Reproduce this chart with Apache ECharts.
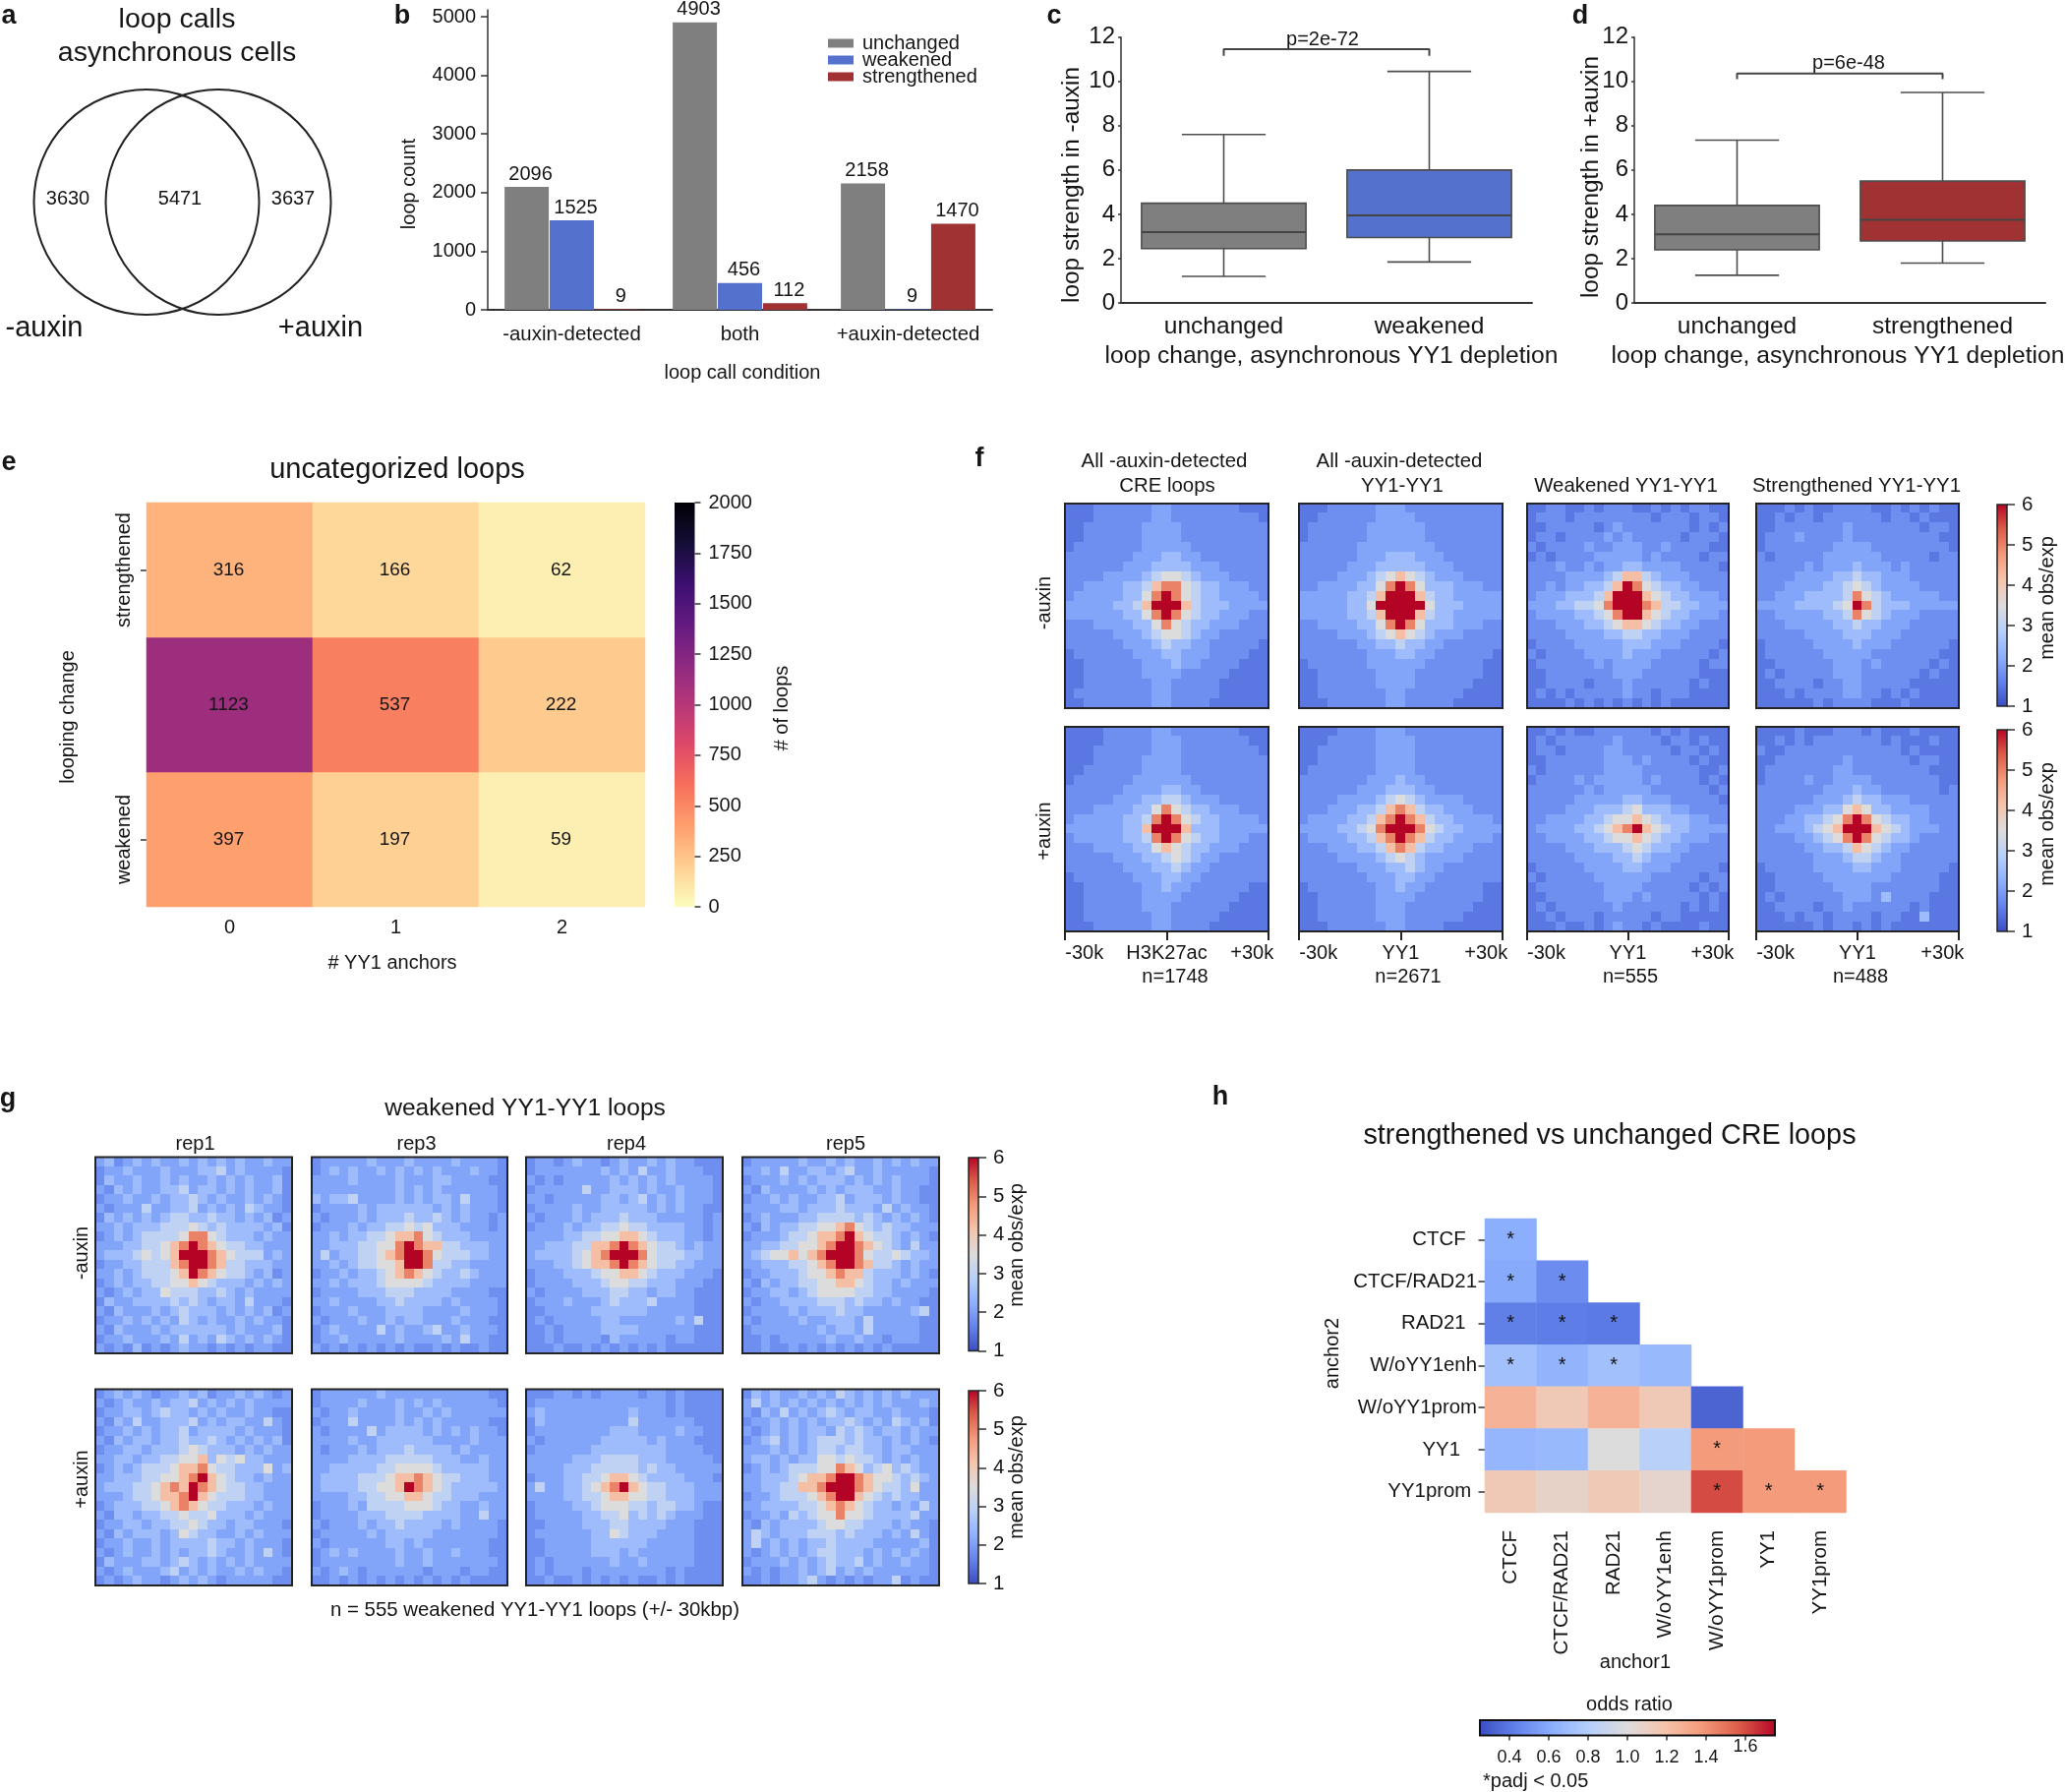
<!DOCTYPE html>
<html><head><meta charset="utf-8">
<style>html,body{margin:0;padding:0;background:#fff}#c{width:2100px;height:1822px}</style>
<script src="https://cdn.jsdelivr.net/npm/echarts@6/dist/echarts.min.js"></script>
</head><body><div id="c"></div>
<script>
// ---------- data ----------
const vennCounts = [3630, 5471, 3637];
const vennLabels = ['-auxin', '+auxin'];
const loopConditions = ['-auxin-detected', 'both', '+auxin-detected'];
const barUnchanged = [2096, 4903, 2158];
const barWeakened = [1525, 456, 9];
const barStrengthened = [9, 112, 1470];
const boxC = [[0, 1.2, 2.45, 3.2, 4.5, 7.6], [1, 1.85, 2.95, 3.95, 6.0, 10.45]];
const boxD = [[0, 1.25, 2.4, 3.1, 4.4, 7.35], [1, 1.8, 2.8, 3.75, 5.5, 9.5]];
const bracketC = [[0, 11.15], [0, 11.45], [1, 11.45], [1, 11.15]];
const bracketD = [[0, 10.1], [0, 10.35], [1, 10.35], [1, 10.1]];
const eAnchors = ['0', '1', '2'];
const eChanges = ['weakened', 'unchanged', 'strengthened'];
const eValues = [[397, 197, 59], [1123, 537, 222], [316, 166, 62]];
const hNames = ['CTCF', 'CTCF/RAD21', 'RAD21', 'W/oYY1enh', 'W/oYY1prom', 'YY1', 'YY1prom'];
const hOdds = [
  [0.62],
  [0.60, 0.48],
  [0.43, 0.42, 0.41],
  [0.72, 0.65, 0.72, 0.68],
  [1.27, 1.15, 1.27, 1.15, 0.33],
  [0.66, 0.68, 1.00, 0.82, 1.37, 1.37],
  [1.15, 1.08, 1.15, 1.06, 1.60, 1.37, 1.37]];
const hSig = [
  [1],
  [1, 1],
  [1, 1, 1],
  [1, 1, 1, 0],
  [0, 0, 0, 0, 0],
  [0, 0, 0, 0, 1, 0],
  [0, 0, 0, 0, 1, 1, 1]];
const hLabelPad = [2, 0, 2, 0, 0, 3, 1];
// pile-ups: hand-read coarse cells; each digit indexes pileupLevels (mean obs/exp)
const pileupLevels = [1.2, 1.5, 1.8, 2.1, 2.5, 3, 3.5, 4.2, 5, 6];
const fCreMinus = ["111222222332222222111","111222222332222222221","112222223333222222222","112222223333222222222","122222223333322222222","222222233344332222222","222222333444433322222","222233334566543332222","223333445788654433322","233333446898654433332","333334457999754443333","333333446898654433322","222333344686544333222","222223334566543322222","222222333454433222221","122222233344333222211","112222223334332222111","112222223333222221111","112222222332222211111","122222222332222211111","112222222332222111111"];
const fYYMinus = ["111222223332222222222","112222223333222222222","122222233333322222222","122222233333322222222","222222333333332222222","222222333444333222222","222223334444433322222","222233345676543332222","223333446898644433322","333334457999754433333","333334469999964443333","333334457999754433333","223333446898644433322","222233345676543332222","222222334454433222222","222222233344332222221","122222233333322222211","112222223333222222211","112222223333222222111","112222222332222221111","111222222332222211111"];
const fWeakMinus = ["112211212221121212211","122212222222212221221","112222212322222221212","122122223232222212221","212222322333223222211","121222233333232222122","222322323344333322221","222233334577543332222","223233445798654433222","233344457999765443332","333445568999875544333","233334456899765443332","222333445677654433222","222233334455443332222","122223333344433322221","212222333343332222212","122222232333322222122","112222222333222222111","112222122232222221211","121212222232212221111","111121212121212111111"];
const fStrMinus = ["111212112222112121211","112122122222212212111","112222222322222221221","122232222322222222211","122222223333222222221","212222233333322222122","222223233343332322222","222233334454433322222","222333344565433332222","223334444586543333322","333344445698544433333","223333344586543332222","222333334454433322222","222223333444333222222","122222333343332222221","122222233333222222211","112222223332322222121","121222223332222221211","112222122332222211111","111212222332212121111","111111212222111211111"];
const fCrePlus = ["111122222332222222111","111122222333222222211","111222222333222222221","111222223333222222222","112222223333222222222","122222233333322222222","222222333344332222222","222223334455433322222","222333344686544333222","233333445898654433332","333333447999744433333","233333445898654433322","222333344676544333222","222223334456543322222","222222333445433222222","122222233344332222222","112222223343322222211","112222223333222222111","112222223332222221111","112222222332222211111","111222222332222111111"];
const fYYPlus = ["111122223332222222222","111222223333222222222","112222223333222222222","112222223333222222222","122222223333222222222","222222233343322222222","222222333444332222222","222233334565433332222","222333445787544333222","233334457898754433332","333344568999865443333","233334457898754433332","222333445787544333222","222233334565433332222","222222333445433222222","222222233344332222222","122222223343322222211","112222223333222222211","112222223332222222111","112222223332222221111","111222222332222111111"];
const fWeakPlus = ["112121122222212121111","121222222322221221211","122122223322222122121","112222223332322221211","212222223333222222112","122223233333232222121","222222323333322222212","222223333344333222221","222233344456444332222","223333445667654443322","233334456789765443333","223333445667654433322","222233344456544332222","222223333445433322222","122222333344333222221","212222233333322222122","122222223333222221212","112222223332322222121","121222222322222212121","112122212222212211111","111211212322121111211"];
const fStrPlus = ["111121112221211121111","112121222222212111211","211222222222222121111","112222222322222212211","122222223322222222111","122223223333222222211","222222233343322222212","222222333454433322222","222233344676443333222","222334456898654433222","223334567999765433322","222233456898654432222","222223344576543322222","222222333455433222222","122222333344333222221","112222233333332222211","112222223333222222211","121222222333242222111","112222122322222212111","111212212222122114111","111111212212121111111"];
const gRep1Minus = ["342343433434343433433","233433343334453433332","243343343433434343342","324343344534434343342","233433434454343343432","323335334453434354332","243434345544544343423","334344455565454444342","234345555688654443433","333445567898765544333","344456567999876555343","233445557899875544433","334345556798765543423","234344556676544434343","323434465554454343333","243344445454344353332","324333434544434343423","233434343543433434332","324333434444443433342","233433343534354343432","323242323433232323322"];
const gRep3Minus = ["233333433343333433332","234343343434343334332","333343333433344333322","333333333434343333332","434453333434344353332","233334344444434343332","323334344454454343323","233343445565644433323","334344556778654443333","334445566898775544433","353445567899865554433","334345566799855443333","233434456787654454333","334344456666544443333","233334445554444333322","334333344544443433332","233343334444333343332","323334334344333433322","234333353433453343332","233433333433334353322","323232323232232322322"];
const gRep4Minus = ["233234332343343433222","233333334343533433322","323233333434343433332","233333533444343343332","332333334434534343332","233334334444434343322","323334344454443333323","233343445565544443323","333344556677654443323","334445577898765543433","344445678999865554433","333445677898765544333","233344456677654443332","233334445665544433322","323333444554434433222","233343334544453333222","223333344444433333222","232333334433333343522","223233334444333333222","223233332433333233222","222322323232323222222"];
const gRep5Minus = ["233333433434334343433","334353344345334333332","233343434443434343332","324333343434443343322","233434334453444343322","333344344454443534332","234333445555454343432","324344556678654544333","233345567789765543432","334455667899876543533","345667678999865565443","334445567899875543433","233444566787754443432","324344556677654434333","233443456666554433332","323344445554544343322","233334344454433333452","323333433444353333322","233333334344353333322","223233333433433233322","223223232323232322222"];
const gRep1Plus = ["234343233434233434323","323433434453434343333","233443454434343343322","324353344453434433532","233434344534444343332","324344344544543434342","233443444565444343433","334434455667465644333","234345556778655444634","334445566789765443433","344455678798765544333","333455677897655544333","234445567876554443433","324434455655644434333","233443445565443443332","324344434654433434333","233433434444544343332","323433434344543343532","243334434543434343333","323433345343433434332","232343323434323333322"];
const gRep3Plus = ["233333343333333333322","233334333434343333332","323343333433434333333","233353333434343333322","323333534444343434332","333343344444433334333","323334344454444343333","333344445555544433433","334444455666654444433","344445556778765544433","344445566798765444443","333344556677655444333","233343555566654433433","233334445555444433533","323334344544443433332","233333434444433333332","323333334434333333322","234343333433433433322","233333333433433333332","323432333333233323322","223232323232323232222"];
const gRep4Plus = ["222332323333233232222","233333333333333232222","343333333334333232222","243333333335333333222","233333333444333343322","323333334444434333222","233333344444444333322","333334445555444333332","333344455555454433333","233344556776544443332","353344567897655444333","333344556776655444333","233334456665545544322","233333445564545433322","223333444554444333222","233333344654443333222","223333344444433333222","223333344434333333222","232333333433433333222","232333233333333232222","223223232323223232222"];
const gRep5Plus = ["243433434354343434333","353434343434343433343","324353434543443343332","233434343445434354342","323434344354543443433","234534345554544343432","333434345545544344333","344343446656554343433","234345556687645645433","334445677899876654543","334455778999876554633","233455567899765454433","334444556787654434353","233435456686654444533","324344445665544434332","354344455545444343532","353434344544443333342","323434345544434343432","233343434544534334332","323233434534343333332","223233453232323352322"];

// ---------- helpers ----------
const FONT = '"Liberation Sans", Arial, sans-serif';
const INK = '#151515', LINE = '#333333', FRAME = '#232323';
const magmaR = ['#fcfdbf','#fecf92','#fe9f6d','#f7705c','#de4968','#b73779','#8c2981','#641a80','#3b0f70','#140e36','#000004'];
const coolwarm = ['#3b4cc0','#6282ea','#8db0fe','#b7cff9','#dddcdc','#f5c4ac','#f49a7b','#dc5d4a','#b40426'];
const stops = cols => cols.map((c, i) => ({offset: i / (cols.length - 1), color: c}));
const vGrad = cols => new echarts.graphic.LinearGradient(0, 1, 0, 0, stops(cols));
const hGrad = cols => new echarts.graphic.LinearGradient(0, 0, 1, 0, stops(cols));

const grid = [], xAxis = [], yAxis = [], series = [], graphic = [];
function addGrid(g, xa, ya) {
  grid.push(g);
  const i = grid.length - 1;
  xAxis.push(Object.assign({gridIndex: i}, xa));
  yAxis.push(Object.assign({gridIndex: i}, ya));
  return i;
}
function T(text, x, y, size, o = {}) {
  graphic.push({type: 'text', x, y, rotation: o.rot ? Math.PI / 2 : 0, silent: true,
    style: {text: String(text), fontSize: size, fontFamily: FONT, fontWeight: o.bold ? 'bold' : 'normal',
      fill: INK, align: o.align || 'center', verticalAlign: 'middle'}});
}
const tickStyle = {lineStyle: {color: LINE, width: 1.5}};
const hiddenVal = (min, max, extra = {}) => Object.assign({type: 'value', min, max, show: false}, extra);
const plain = v => String(v);

// ---------- letters ----------
[['a', 9, 17], ['b', 409, 17], ['c', 1072, 17], ['d', 1607, 17], ['e', 9, 471], ['f', 996, 467], ['g', 8, 1118], ['h', 1241, 1116]]
  .forEach(l => T(l[0], l[1], l[2], 27, {bold: true}));

// ---------- a: venn ----------
T('loop calls', 180, 20, 28.5);
T('asynchronous cells', 180, 54, 28.5);
T(vennCounts[0], 69, 202, 20); T(vennCounts[1], 183, 202, 20); T(vennCounts[2], 298, 202, 20);
T(vennLabels[0], 45, 334, 29); T(vennLabels[1], 326, 334, 29);
const vennCircles = [[0.3725, 0.5], [0.555, 0.5]];
let gi = addGrid({left: 0, top: 0, width: 400, height: 411}, hiddenVal(0, 1), hiddenVal(0, 1));
series.push({type: 'scatter', xAxisIndex: gi, yAxisIndex: gi, data: vennCircles, symbolSize: 229, silent: true,
  itemStyle: {color: 'rgba(0,0,0,0)', borderColor: '#222', borderWidth: 2, opacity: 1}});

// ---------- b: bars ----------
gi = addGrid({left: 496, top: 10, width: 513, height: 305},
  {type: 'category', data: loopConditions, axisLine: {lineStyle: {color: LINE, width: 2}},
   axisTick: {alignWithLabel: true, length: 7, ...tickStyle}, axisLabel: {fontSize: 20.4, color: INK, margin: 15, interval: 0}},
  {type: 'value', min: 0, max: 5118, interval: 1000, splitLine: {show: false},
   axisLine: {show: true, lineStyle: {color: LINE, width: 1.5}},
   axisTick: {show: true, length: 7, customValues: [0, 1000, 2000, 3000, 4000, 5000], ...tickStyle},
   axisLabel: {fontSize: 20, color: INK, margin: 12, customValues: [0, 1000, 2000, 3000, 4000, 5000], formatter: plain}});
[['unchanged', barUnchanged, '#7f7f7f'], ['weakened', barWeakened, '#5472cd'], ['strengthened', barStrengthened, '#a03234']].forEach(s => {
  series.push({type: 'bar', name: s[0], xAxisIndex: gi, yAxisIndex: gi, data: s[1], barWidth: 45, barGap: '2%',
    itemStyle: {color: s[2]}, label: {show: true, position: 'top', distance: 3, offset: [4, 0], fontSize: 20, color: INK}});
});
T('loop count', 416, 187, 20, {rot: true});
T('loop call condition', 755, 379, 20);

// ---------- c, d: boxes ----------
function boxPanel(left, data, bracket, colors, cats, pText, pX, pY, ylabel, ylx, yly, xlx) {
  const g = addGrid({left, top: 37.7, width: 418, height: 270.3},
    {type: 'category', data: cats, axisLine: {lineStyle: {color: LINE, width: 2}},
     axisTick: {alignWithLabel: true, length: 6, ...tickStyle}, axisLabel: {fontSize: 24.5, color: INK, margin: 11.5}},
    {type: 'value', min: 0, max: 12, interval: 2, splitLine: {show: false},
     axisLine: {show: true, lineStyle: {color: LINE, width: 1.5}},
     axisTick: {show: true, length: 3, ...tickStyle}, axisLabel: {fontSize: 24, color: INK, margin: 6}});
  series.push({type: 'custom', xAxisIndex: g, yAxisIndex: g, data, silent: true, clip: false,
    encode: {x: 0, y: [1, 2, 3, 4, 5]},
    renderItem(params, api) {
      const c = api.value(0), bw = api.size([1, 0])[0] * 0.8, capw = bw * 0.51;
      const P = v => api.coord([c, v]);
      const [lo, q1, med, q3, hi] = [1, 2, 3, 4, 5].map(i => P(api.value(i)));
      const X = lo[0], ls = {stroke: '#4d4d4d', lineWidth: 1.6};
      const seg = (x1, y1, x2, y2, st = ls) => ({type: 'line', shape: {x1, y1, x2, y2}, style: st});
      return {type: 'group', children: [
        seg(X, lo[1], X, q1[1]), seg(X, q3[1], X, hi[1]),
        seg(X - capw / 2, lo[1], X + capw / 2, lo[1]), seg(X - capw / 2, hi[1], X + capw / 2, hi[1]),
        {type: 'rect', shape: {x: X - bw / 2, y: q3[1], width: bw, height: q1[1] - q3[1]},
         style: {fill: colors[c], stroke: '#4d4d4d', lineWidth: 1.6}},
        seg(X - bw / 2, med[1], X + bw / 2, med[1], {stroke: '#444', lineWidth: 2})
      ]};
    }});
  series.push({type: 'line', xAxisIndex: g, yAxisIndex: g, data: bracket, showSymbol: false, silent: true, clip: false,
    lineStyle: {color: '#444', width: 2}});
  T(pText, pX, pY, 20);
  T(ylabel, ylx, yly, 24.4, {rot: true});
  T('loop change, asynchronous YY1 depletion', xlx, 362, 24.6);
}
boxPanel(1140, boxC, bracketC, ['#7f7f7f', '#5472cd'], ['unchanged', 'weakened'], 'p=2e-72', 1345, 40, 'loop strength in -auxin', 1090, 188, 1354);
boxPanel(1662, boxD, bracketD, ['#7f7f7f', '#a03234'], ['unchanged', 'strengthened'], 'p=6e-48', 1880, 64, 'loop strength in +auxin', 1618, 180, 1869);

// ---------- e: count heatmap ----------
gi = addGrid({left: 149, top: 511, width: 507, height: 411},
  {type: 'category', data: eAnchors, axisLine: {show: false}, axisTick: {alignWithLabel: true, length: 7, ...tickStyle},
   axisLabel: {fontSize: 20, color: INK, margin: 11}, splitLine: {show: false}},
  {type: 'category', data: eChanges, axisLine: {show: false}, axisTick: {alignWithLabel: true, show: true, length: 6, ...tickStyle},
   axisLabel: {fontSize: 20, color: INK, rotate: 90, margin: 12.5}, splitLine: {show: false}});
const eData = [];
eValues.forEach((r, y) => r.forEach((v, x) => eData.push([x, y, v])));
const eSeries = series.length;
series.push({type: 'heatmap', xAxisIndex: gi, yAxisIndex: gi, data: eData, silent: true,
  label: {show: true, fontSize: 19, color: INK, formatter: p => p.data[2], offset: [-1, 0]}});
T('uncategorized loops', 404, 478, 29);
T('looping change', 69, 729, 20, {rot: true});
T('# YY1 anchors', 399, 979, 20);
T('# of loops', 795, 720, 20, {rot: true});
addGrid({left: 686, top: 511, width: 20.5, height: 411, show: true, borderWidth: 0, backgroundColor: vGrad(magmaR)},
  hiddenVal(0, 1),
  {type: 'value', position: 'right', min: 0, max: 2000, interval: 250, splitLine: {show: false},
   axisLine: {show: false, onZero: false},
   axisTick: {show: true, length: 6, ...tickStyle}, axisLabel: {fontSize: 20, color: INK, margin: 14, formatter: plain}});

// ---------- pile-ups ----------
const N = 21, pileupSeries = [];
const cells = rows => {
  const out = [];
  rows.forEach((row, r) => { for (let c = 0; c < N && c < row.length; c++) out.push([c, r, pileupLevels[+row[c]]]); });
  return out;
};
function pileup(rows, left, right, top, bottom, axisInfo) {
  const xa = axisInfo ? {
      type: 'value', min: 0, max: N, interval: N / 2, splitLine: {show: false},
      axisLine: {show: false, onZero: false},
      axisTick: {show: true, length: 9, lineStyle: {color: FRAME, width: 2}},
      axisLabel: {fontSize: 20, color: INK, margin: 12, customValues: [2, N / 2, 19.3], hideOverlap: false,
        showMinLabel: true, showMaxLabel: true,
        formatter: v => v < 5 ? '-30k' : v > 15 ? '+30k' : axisInfo}
    } : hiddenVal(0, N);
  const g = addGrid({left, top, width: right - left, height: bottom - top, show: true, z: 3,
      backgroundColor: 'rgba(0,0,0,0)', borderColor: FRAME, borderWidth: 2}, xa,
    hiddenVal(0, N, {inverse: true}));
  pileupSeries.push(series.length);
  series.push({type: 'custom', xAxisIndex: g, yAxisIndex: g, data: cells(rows), silent: true, z: 2, progressive: 0,
    encode: {x: 0, y: 1},
    renderItem(params, api) {
      const a = api.coord([api.value(0), api.value(1)]), b = api.coord([api.value(0) + 1, api.value(1) + 1]);
      const x = Math.floor(Math.min(a[0], b[0])), y = Math.floor(Math.min(a[1], b[1]));
      return {type: 'rect', shape: {x, y, width: Math.ceil(Math.max(a[0], b[0])) - x, height: Math.ceil(Math.max(a[1], b[1])) - y},
        style: {fill: api.visual('color')}};
    }});
}
function obsBar(left, width, top, bottom, tickLen, margin) {
  addGrid({left, top, width, height: bottom - top, show: true, z: 3, backgroundColor: vGrad(coolwarm), borderColor: FRAME, borderWidth: 1.5},
    hiddenVal(0, 1),
    {type: 'value', position: 'right', min: 1, max: 6, interval: 1, splitLine: {show: false},
     axisLine: {show: false, onZero: false},
     axisTick: {show: true, length: tickLen, ...tickStyle}, axisLabel: {fontSize: 20.5, color: INK, margin}});
}
// f
const fCols = [[1083, 1290], [1321, 1528], [1553, 1758], [1786, 1992]];
const fTop = [fCreMinus, fYYMinus, fWeakMinus, fStrMinus];
const fBottom = [fCrePlus, fYYPlus, fWeakPlus, fStrPlus];
const fCenter = ['H3K27ac', 'YY1', 'YY1', 'YY1'];
const fN = ['n=1748', 'n=2671', 'n=555', 'n=488'];
const fNx = [1195, 1432, 1658, 1892];
fCols.forEach((c, i) => {
  pileup(fTop[i], c[0], c[1], 512, 720);
  pileup(fBottom[i], c[0], c[1], 739, 947, fCenter[i]);
  T(fN[i], fNx[i], 993, 20);
});
T('All -auxin-detected', 1184, 469, 20.4); T('CRE loops', 1187, 494, 20.4);
T('All -auxin-detected', 1423, 469, 20.4); T('YY1-YY1', 1426, 494, 20.4);
T('Weakened YY1-YY1', 1653.5, 494, 20.4); T('Strengthened YY1-YY1', 1888, 494, 20.4);
T('-auxin', 1062, 613, 20, {rot: true}); T('+auxin', 1062, 845, 20, {rot: true});
obsBar(2031, 10, 513, 718, 8, 15); obsBar(2031, 10, 742, 947, 8, 15);
T('mean obs/exp', 2082, 608, 20, {rot: true}); T('mean obs/exp', 2082, 838, 20, {rot: true});
// g
const gCols = [[97, 297], [317, 516], [535, 735], [755, 955]];
const gTop = [gRep1Minus, gRep3Minus, gRep4Minus, gRep5Minus];
const gBottom = [gRep1Plus, gRep3Plus, gRep4Plus, gRep5Plus];
const gReps = ['rep1', 'rep3', 'rep4', 'rep5'], gRepX = [198.6, 423.6, 637, 860];
gCols.forEach((c, i) => {
  pileup(gTop[i], c[0], c[1], 1176.5, 1376);
  pileup(gBottom[i], c[0], c[1], 1412.5, 1612);
  T(gReps[i], gRepX[i], 1163.6, 20);
});
T('weakened YY1-YY1 loops', 534, 1127, 24.6);
T('-auxin', 83, 1274, 20, {rot: true}); T('+auxin', 83, 1504, 20, {rot: true});
T('n = 555 weakened YY1-YY1 loops (+/- 30kbp)', 544, 1637.5, 20.4);
obsBar(985, 10, 1177, 1373.5, 8, 15); obsBar(985, 10, 1414, 1610, 8, 15);
T('mean obs/exp', 1034, 1266, 20, {rot: true}); T('mean obs/exp', 1034, 1502, 20, {rot: true});

// ---------- h ----------
gi = addGrid({left: 1510, top: 1239, width: 367.5, height: 299},
  {type: 'category', data: hNames, axisLine: {show: false}, axisTick: {alignWithLabel: true, length: 7, ...tickStyle},
   axisLabel: {fontSize: 20.5, color: INK, rotate: 90, margin: 18, interval: 0}, splitLine: {show: false}},
  {type: 'category', data: hNames, inverse: true, axisLine: {show: false}, axisTick: {show: true, alignWithLabel: true, length: 6.5, ...tickStyle},
   axisLabel: {fontSize: 20.4, color: INK, margin: 8, interval: 0,
     formatter: v => v + ' '.repeat(hLabelPad[hNames.indexOf(v)])}, splitLine: {show: false}});
const hData = [];
hOdds.forEach((r, y) => r.forEach((v, x) => hData.push([x, y, v, hSig[y][x]])));
const hSeries = series.length;
series.push({type: 'heatmap', xAxisIndex: gi, yAxisIndex: gi, data: hData, silent: true,
  encode: {x: 0, y: 1, value: 2},
  label: {show: true, fontSize: 20, color: '#111', formatter: p => p.data[3] ? '*' : ''}});
T('strengthened vs unchanged CRE loops', 1637, 1155, 28.8);
T('anchor2', 1355, 1376, 20, {rot: true});
T('anchor1', 1663, 1690, 20);
T('odds ratio', 1657, 1733.5, 20);
T('*padj < 0.05', 1508, 1811, 20, {align: 'left'});
const oddsTicks = [0.4, 0.6, 0.8, 1.0, 1.2, 1.4, 1.6];
const oddsLabels = [0.4, 0.6, 0.8, 1.0, 1.2, 1.4];
addGrid({left: 1505, top: 1749, width: 300, height: 15.5, show: true, z: 3, backgroundColor: hGrad(coolwarm), borderColor: '#111', borderWidth: 2},
  {type: 'value', min: 0.25, max: 1.75, splitLine: {show: false},
   axisLine: {show: false, onZero: false},
   axisTick: {show: true, length: 5, customValues: oddsTicks, ...tickStyle},
   axisLabel: {fontSize: 18, color: INK, margin: 14, customValues: oddsLabels, formatter: v => v.toFixed(1)}},
  hiddenVal(0, 1));
T((1.6).toFixed(1), 1775, 1776, 18);

// ---------- chart ----------
const chart = echarts.init(document.getElementById('c'), null, {width: 2100, height: 1822});
chart.setOption({
  animation: false, backgroundColor: '#fff', textStyle: {fontFamily: FONT},
  grid, xAxis, yAxis, series, graphic,
  legend: {data: ['unchanged', 'weakened', 'strengthened'], orient: 'vertical', left: 837, top: 29,
    itemWidth: 26, itemHeight: 9, itemGap: -3, selectedMode: false, icon: 'rect',
    textStyle: {fontSize: 20, color: INK, lineHeight: 14, padding: [0, 0, 0, 4]}},
  visualMap: [
    {type: 'continuous', show: false, seriesIndex: eSeries, dimension: 2, min: 0, max: 2000, inRange: {color: magmaR}},
    {type: 'continuous', show: false, seriesIndex: hSeries, dimension: 2, min: 0.25, max: 1.75, inRange: {color: coolwarm}},
    {type: 'continuous', show: false, seriesIndex: pileupSeries, dimension: 2, min: 1, max: 6, inRange: {color: coolwarm}}
  ]
});
</script></body></html>
